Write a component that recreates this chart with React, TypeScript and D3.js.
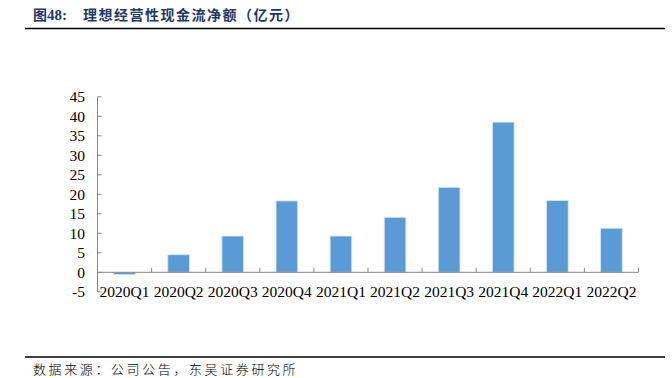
import React from "react";
import * as d3 from "d3";

const categories = ["2020Q1","2020Q2","2020Q3","2020Q4","2021Q1","2021Q2","2021Q3","2021Q4","2022Q1","2022Q2"];
const values = [-0.6, 4.5, 9.3, 18.3, 9.3, 14.1, 21.8, 38.5, 18.4, 11.3];
const yTicks = [-5, 0, 5, 10, 15, 20, 25, 30, 35, 40, 45];
const titleA = "图";
const titleB = "48:";
const titleText = "理想经营性现金流净额（亿元）";
const source = "数据来源：公司公告，东吴证券研究所";

export default function App() {
  const W = 672, H = 378;
  const x0 = 97.5, x1 = 638.5;
  const y = d3.scaleLinear().domain([-5, 45]).range([291.8, 96.8]);
  const x = d3.scaleBand().domain(categories).range([x0, x1]).paddingInner(0.6).paddingOuter(0.3);
  const xb = d3.scaleBand().domain(categories).range([x0, x1]);
  const axisColor = "#868686";
  const serif = "'Liberation Serif', 'Times New Roman', serif";
  const cjk = "'Noto Sans CJK SC', sans-serif";
  return (
    <div style={{ position: "absolute", left: 0, top: 0 }}>
      <svg width={W} height={H} style={{ display: "block" }}>
        <rect width={W} height={H} fill="#fff" />
        <text x={33} y={20} fontWeight={700} fontSize={14} fill="#1F3864">
          <tspan fontFamily={cjk}>{titleA}</tspan>
          <tspan fontFamily={serif} fontSize={15}>{titleB}</tspan>
        </text>
        <text x={83} y={20} fontFamily={cjk} fontWeight={700} fontSize={14} letterSpacing={1.5} fill="#1F3864">{titleText}</text>
        <line x1={25} x2={665} y1={28.5} y2={28.5} stroke="#000" strokeWidth={1.5} />
        {categories.map((c, i) => {
          const v = values[i];
          const yt = y(Math.max(0, v));
          const yb = y(Math.min(0, v));
          return (
            <rect key={c} x={x(c)} y={yt} width={x.bandwidth()} height={Math.max(0.5, yb - yt)}
              fill="#5B9BD5" stroke="#D6E6F5" strokeWidth={0.8} />
          );
        })}
        <line x1={x0} x2={x0} y1={y(45)} y2={y(-5)} stroke={axisColor} strokeWidth={1} />
        {yTicks.map(t => (
          <g key={t}>
            <line x1={x0} x2={x0 + 4} y1={y(t)} y2={y(t)} stroke={axisColor} strokeWidth={1} />
            <text x={85} y={y(t)} dy="0.35em" textAnchor="end" fontFamily={serif} fontSize={15.5} fill="#000">{t}</text>
          </g>
        ))}
        <line x1={x0} x2={x1} y1={y(0)} y2={y(0)} stroke={axisColor} strokeWidth={1} />
        {categories.map((c) => (
          <g key={c}>
            <line x1={(xb(c) as number) + xb.bandwidth()} x2={(xb(c) as number) + xb.bandwidth()} y1={y(0) - 4.5} y2={y(0)} stroke={axisColor} strokeWidth={1} />
            <text x={(xb(c) as number) + xb.bandwidth() / 2} y={297} textAnchor="middle" fontFamily={serif} fontSize={15.5} fill="#000">{c}</text>
          </g>
        ))}
        <line x1={25} x2={665} y1={357} y2={357} stroke="#000" strokeWidth={1.5} />
        <text x={33} y={374} fontFamily={cjk} fontWeight={300} fontSize={13} letterSpacing={2.6} fill="#000">{source}</text>
      </svg>
    </div>
  );
}
